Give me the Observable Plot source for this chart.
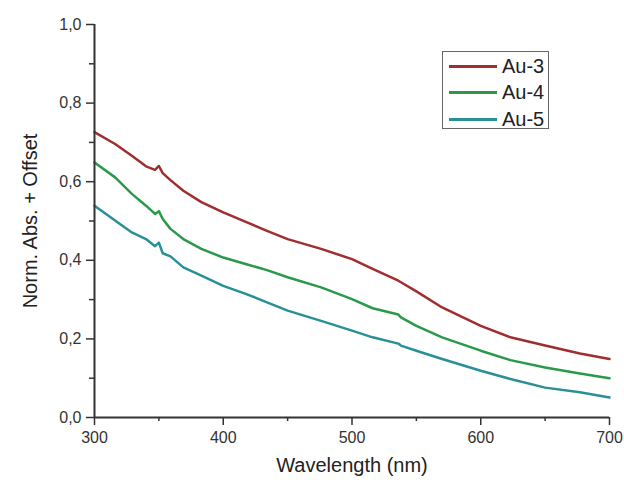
<!DOCTYPE html>
<html>
<head>
<meta charset="utf-8">
<script src="https://cdn.jsdelivr.net/npm/d3@7"></script>
<script src="https://cdn.jsdelivr.net/npm/@observablehq/plot@0.6"></script>
<style>
  html, body { margin: 0; padding: 0; background: #fff; }
  #wrap { position: relative; width: 624px; height: 480px; font-family: "Liberation Sans", Arial, sans-serif; }
  #legend { position: absolute; left: 442px; top: 51px; width: 105px; height: 76px; border: 1px solid #666; background: #fff; }
  .row { position: absolute; left: 6px; height: 22px; display: flex; align-items: center; font-size: 20px; color: #222; }
  .sw { width: 48px; height: 3px; margin-right: 5px; }
</style>
</head>
<body>
<div id="wrap"></div>
<script>
const wavelengths = [300,316,329,340,347,350,353,359,369,383,400,418,434,450,476,500,516,536,538,550,570,600,623,650,677,700];
const au3 = [0.726,0.696,0.666,0.639,0.630,0.640,0.622,0.604,0.577,0.548,0.522,0.497,0.475,0.454,0.429,0.403,0.378,0.348,0.344,0.321,0.280,0.233,0.204,0.183,0.163,0.149];
const au4 = [0.649,0.611,0.569,0.539,0.518,0.525,0.505,0.480,0.454,0.429,0.407,0.390,0.375,0.357,0.331,0.301,0.278,0.262,0.255,0.233,0.204,0.170,0.146,0.127,0.112,0.100];
const au5 = [0.539,0.501,0.471,0.454,0.436,0.445,0.418,0.410,0.382,0.361,0.335,0.314,0.293,0.272,0.246,0.221,0.204,0.188,0.183,0.170,0.149,0.119,0.098,0.076,0.064,0.051];
const seriesNames = ["Au-3", "Au-4", "Au-5"];
const seriesColors = ["#a02e2e", "#2a9a4a", "#2a9098"];
const xMajor = [300, 400, 500, 600, 700];
const xMinor = [350, 450, 550, 650];
const yMajor = [0, 0.2, 0.4, 0.6, 0.8, 1.0];
const yMinor = [0.1, 0.3, 0.5, 0.7, 0.9];
const xLabel = "Wavelength (nm)";
const yLabel = "Norm. Abs. + Offset";

const allSeries = [au3, au4, au5];
const data = [];
allSeries.forEach((vals, si) => {
  vals.forEach((v, i) => data.push({series: seriesNames[si], wl: wavelengths[i], v}));
});

const fmt = d => d3.format(".1f")(d).replace(".", ",");
const axisColor = "#333";

const chart = Plot.plot({
  width: 624,
  height: 480,
  marginLeft: 94,
  marginRight: 15,
  marginTop: 24,
  marginBottom: 63,
  style: {fontFamily: "'Liberation Sans', Arial, sans-serif", background: "#fff"},
  x: {domain: [300, 700]},
  y: {domain: [0, 1]},
  color: {domain: seriesNames, range: seriesColors},
  marks: [
    Plot.line(data, {x: "wl", y: "v", z: "series", stroke: "series", strokeWidth: 2.5}),
    Plot.axisY(yMinor, {tickSize: 5, text: null, stroke: axisColor, strokeWidth: 1.5, label: null}),
    Plot.axisY(yMajor, {tickSize: 8, tickPadding: 5, tickFormat: fmt, fontSize: 16, fill: "#333", stroke: axisColor, strokeWidth: 1.5, label: null}),
    Plot.axisX(xMinor, {tickSize: 4, text: null, stroke: axisColor, strokeWidth: 1.5, label: null}),
    Plot.axisX(xMajor, {tickSize: 8, tickPadding: 6, fontSize: 16, fill: "#333", stroke: axisColor, strokeWidth: 1.5, label: null}),
    Plot.ruleX([300], {stroke: axisColor, strokeWidth: 2}),
    Plot.ruleY([0], {stroke: axisColor, strokeWidth: 2}),
    Plot.text([xLabel], {frameAnchor: "bottom", dy: 48, fontSize: 20, fill: "#222", lineAnchor: "middle", textAnchor: "middle"}),
    Plot.text([yLabel], {frameAnchor: "left", dx: -64, rotate: -90, fontSize: 20, fill: "#222", lineAnchor: "middle", textAnchor: "middle"})
  ]
});

const wrap = document.getElementById("wrap");
wrap.appendChild(chart);
const legend = document.createElement("div");
legend.id = "legend";
seriesNames.forEach((name, i) => {
  const row = document.createElement("div");
  row.className = "row";
  row.style.top = (3 + i * 26.5) + "px";
  const sw = document.createElement("div");
  sw.className = "sw";
  sw.style.background = seriesColors[i];
  const t = document.createElement("span");
  t.textContent = name;
  row.appendChild(sw);
  row.appendChild(t);
  legend.appendChild(row);
});
wrap.appendChild(legend);
</script>
</body>
</html>
